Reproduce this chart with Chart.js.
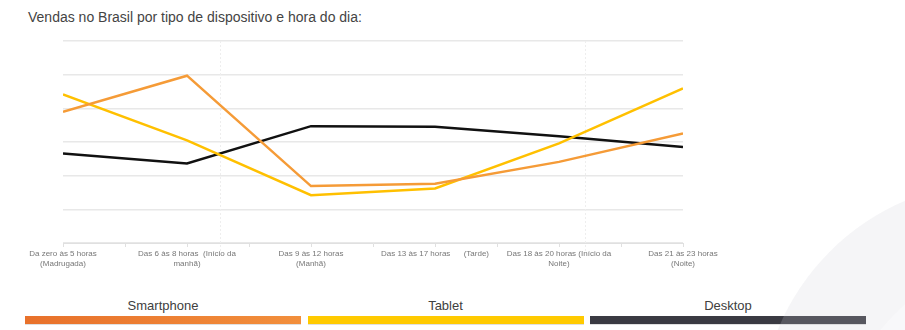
<!DOCTYPE html>
<html>
<head>
<meta charset="utf-8">
<script src="https://cdn.jsdelivr.net/npm/chart.js@4.4.1/dist/chart.umd.min.js"></script>
<style>
    html, body { margin: 0; padding: 0; background: #fff; overflow: hidden; }
    #page { position: relative; width: 905px; height: 330px; overflow: hidden; font-family: "Liberation Sans", Arial, sans-serif; }
    #title { position: absolute; left: 28px; top: 9px; font-size: 14px; color: #444; }
    #chart-box { position: absolute; left: 0; top: 0; width: 905px; height: 280px; }
    #legend { position: absolute; left: 25px; top: 296px; width: 842px; }
    .legend-item { position: absolute; top: 0; width: 276px; text-align: center; }
    .legend-item span { display: block; font-size: 13px; color: #404040; height: 19px; line-height: 19px; }
    .legend-item div { height: 8px; margin-top: 1px; box-shadow: 0 1px 0 rgba(0,0,0,0.12); }
    .circle { position: absolute; border-radius: 50%; }
    #circle-1 { left: 760px; top: 182px; width: 476px; height: 476px; background: rgba(205, 205, 215, 0.2); }
    #circle-2 { left: 830px; top: 250px; width: 440px; height: 440px; background: rgba(255, 255, 255, 0.35); }
</style>
</head>
<body>
<div id="page">
    <div id="title">Vendas no Brasil por tipo de dispositivo e hora do dia:</div>
    <div id="chart-box"><canvas id="line-sales-by-hour"></canvas></div>
    <div id="legend"></div>
    <div class="circle" id="circle-1"></div>
    <div class="circle" id="circle-2"></div>
</div>
<script>
    var periodLabels = [
        ['Da zero às 5 horas', '(Madrugada)'],
        ['Das 6 às 8 horas  (Início da', 'manhã)'],
        ['Das 9 às 12 horas', '(Manhã)'],
        ['Das 13 às 17 horas      (Tarde)'],
        ['Das 18 às 20 horas (Início da', 'Noite)'],
        ['Das 21 às 23 horas', '(Noite)']
    ];
    var deviceNames = ['Smartphone', 'Tablet', 'Desktop'];
    var smartphoneSales = [3.90, 4.97, 1.69, 1.76, 2.41, 3.25];
    var tabletSales = [4.41, 3.05, 1.42, 1.62, 2.96, 4.59];
    var desktopSales = [2.66, 2.36, 3.47, 3.45, 3.17, 2.85];
    var lineColors = ['#F59B37', '#FFC000', '#111111'];
    var legendColors = [
        'linear-gradient(to right, #E8712B, #F28F3C)',
        '#FFCA00',
        '#3A3A42'
    ];

    // line chart wants {x, y} pairs since the x axis is linear
    function toPoints(values) {
        return values.map(function (v, i) {
            return { x: i, y: v };
        });
    }

    // the two faint dotted guides crossing the plot
    var dottedGuides = {
        id: 'dottedGuides',
        beforeDatasetsDraw: function (chart) {
            var ctx = chart.ctx;
            var area = chart.chartArea;
            var xScale = chart.scales.x;
            ctx.save();
            ctx.strokeStyle = '#eeeeee';
            ctx.lineWidth = 1;
            ctx.setLineDash([2, 2]);
            [1.266, 4.21].forEach(function (v) {
                var px = Math.round(xScale.getPixelForValue(v)) + 0.5;
                ctx.beginPath();
                ctx.moveTo(px, area.top);
                ctx.lineTo(px, area.bottom + 8);
                ctx.stroke();
            });
            ctx.restore();
        }
    };

    var seriesValues = [smartphoneSales, tabletSales, desktopSales];
    var datasets = deviceNames.map(function (name, i) {
        return {
            label: name,
            data: toPoints(seriesValues[i]),
            borderColor: lineColors[i],
            backgroundColor: lineColors[i],
            borderWidth: 2.5,
            pointRadius: 0,
            tension: 0,
            fill: false
        };
    });

    var ctx = document.getElementById('line-sales-by-hour').getContext('2d');
    var salesChart = new Chart(ctx, {
        type: 'line',
        data: { datasets: datasets },
        plugins: [dottedGuides],
        options: {
            responsive: true,
            maintainAspectRatio: false,
            animation: false,
            layout: { padding: { left: 63, right: 222, top: 41, bottom: 9 } },
            plugins: {
                legend: { display: false },
                tooltip: { enabled: false }
            },
            scales: {
                x: {
                    type: 'linear',
                    min: 0,
                    max: 5,
                    grid: {
                        drawOnChartArea: false,
                        drawTicks: true,
                        tickLength: 4,
                        color: '#e0e0e0'
                    },
                    border: { display: true, color: '#e0e0e0', width: 1 },
                    ticks: {
                        stepSize: 0.5,
                        autoSkip: false,
                        maxRotation: 0,
                        padding: 2,
                        color: '#777777',
                        font: { family: '"Liberation Sans", Arial, sans-serif', size: 8, lineHeight: 1.25 },
                        callback: function (value) {
                            return Number.isInteger(value) ? periodLabels[value] : '';
                        }
                    }
                },
                y: {
                    min: 0,
                    max: 6,
                    grid: { color: '#e8e8e8', lineWidth: 1.5, drawTicks: false },
                    border: { display: false },
                    ticks: { display: false, stepSize: 1 }
                }
            }
        }
    });

    // legend: name above a long coloured bar for each device
    var legend = document.getElementById('legend');
    deviceNames.forEach(function (name, i) {
        var item = document.createElement('div');
        item.className = 'legend-item';
        item.style.left = (i * 282.5) + 'px';
        var label = document.createElement('span');
        label.textContent = name;
        var bar = document.createElement('div');
        bar.style.background = legendColors[i];
        item.appendChild(label);
        item.appendChild(bar);
        legend.appendChild(item);
    });
</script>
</body>
</html>
